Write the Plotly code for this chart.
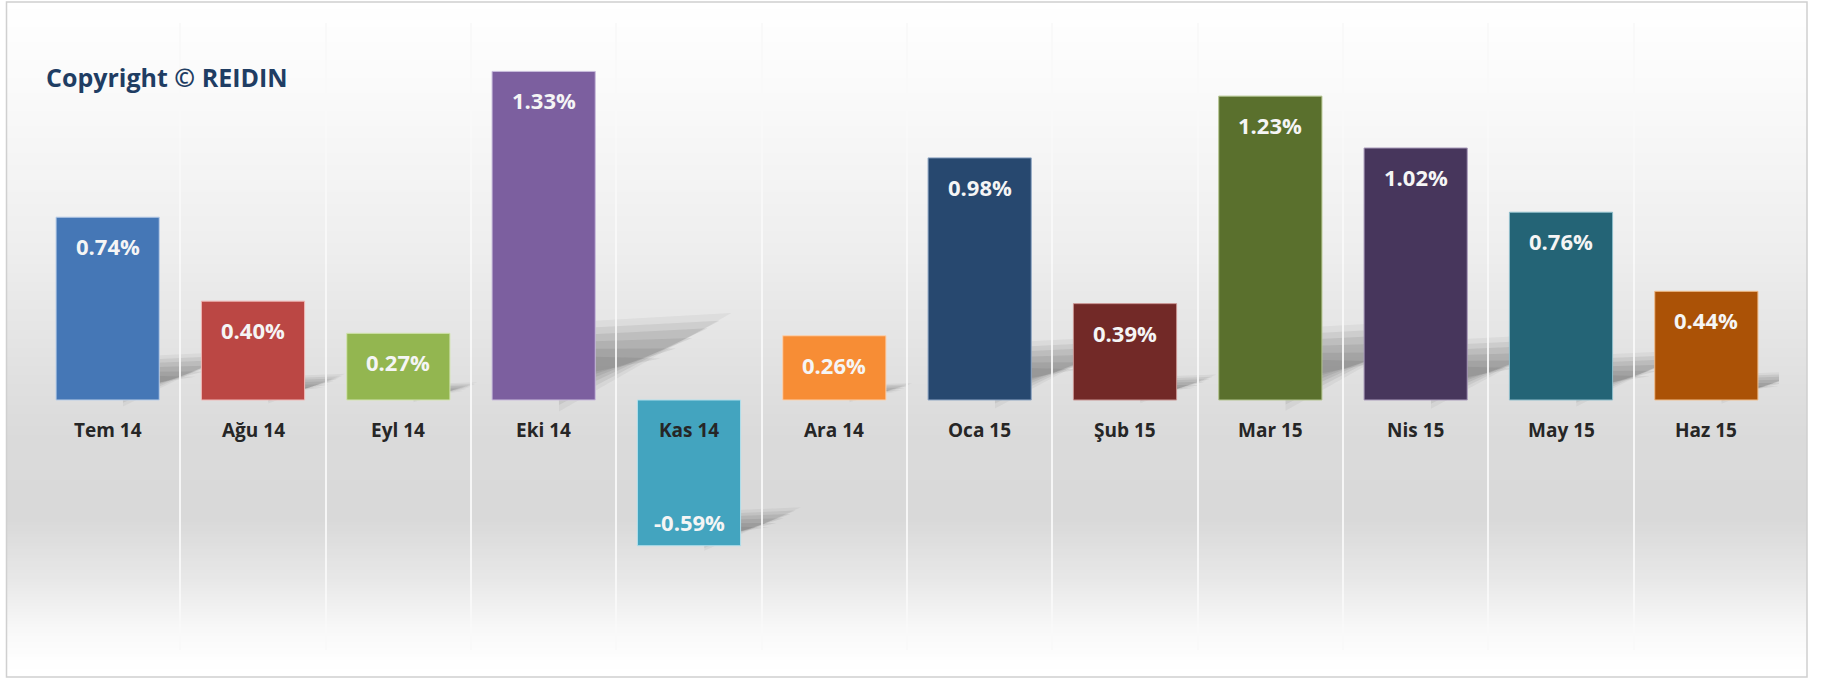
import plotly.graph_objects as go

categories = ["Tem 14", "Ağu 14", "Eyl 14", "Eki 14", "Kas 14", "Ara 14",
              "Oca 15", "Şub 15", "Mar 15", "Nis 15", "May 15", "Haz 15"]
values = [0.74, 0.40, 0.27, 1.33, -0.59, 0.26, 0.98, 0.39, 1.23, 1.02, 0.76, 0.44]
value_labels = ["0.74%", "0.40%", "0.27%", "1.33%", "-0.59%", "0.26%",
                "0.98%", "0.39%", "1.23%", "1.02%", "0.76%", "0.44%"]
bar_colors = ["#4577b6", "#bb4744", "#93b650", "#7c5f9f", "#43a4bf", "#f78d35",
              "#27486f", "#722927", "#5a702d", "#47365c", "#246476", "#ab5206"]
edge_colors = ["#b9cde8", "#f0b7b5", "#d3e4b0", "#c9bcdc", "#b4e0ec", "#fbd1ae",
               "#8fa6c4", "#c79391", "#b3c48e", "#a99bbb", "#8fbecb", "#f0bd8c"]

W, H = 1822, 678
PL, PR, PT, PB = 35, 1779, 23, 650          # plot area in screen pixels
ML, MR, MT, MB = PL, W - PR, PT, H - PB
YMIN, YMAX = -1.012, 1.526
BAR_W = 0.71

pw = PR - PL
ph = PB - PT
def px2x(p):
    return (p - PL) / pw
def py2y(p):
    return 1 - (p - PT) / ph

fig = go.Figure()
fig.add_trace(go.Bar(
    x=categories, y=values, width=BAR_W,
    marker=dict(color=bar_colors, line=dict(color=edge_colors, width=1)),
    hoverinfo="x+y", showlegend=False,
))

# background gradient
stops = [(0, 255), (120, 248), (250, 238), (380, 224), (440, 218), (520, 217),
         (580, 232), (630, 248), (660, 254), (678, 255)]
shapes = []
step = 3
y = 3
while y < 677:
    yc = y + step / 2
    c = 255
    for (a, ca), (b, cb) in zip(stops[:-1], stops[1:]):
        if a <= yc <= b:
            c = ca + (cb - ca) * (yc - a) / (b - a)
            break
    c = int(round(c))
    shapes.append(dict(type="rect", xref="paper", yref="paper", layer="below",
                       x0=px2x(7), x1=px2x(1807), y0=py2y(y + step + 0.5), y1=py2y(y),
                       line=dict(width=0), fillcolor=f"rgb({c},{c},{c})"))
    y += step

# soft perspective shadows (derived from the bar values)
cat_px = pw / len(categories)
unit_px = ph / (YMAX - YMIN)
for i, v in enumerate(values):
    h = abs(v)
    base = 0 if v > 0 else v
    xr = i + BAR_W / 2
    dx = 0.36 * h * unit_px / cat_px
    x0 = xr - 0.25
    for t, L, a in [(1.35, 1.15, 0.05), (1.15, 1.05, 0.07), (0.95, 0.95, 0.08),
                    (0.75, 0.82, 0.08), (0.55, 0.68, 0.08), (0.35, 0.55, 0.07)]:
        c0, w0 = base + 0.10 * h, 0.10 * h
        c1 = base + 0.23 * h * L
        x1 = xr + dx * L
        path = (f"M {x0},{c0 - w0 * t} L {x1},{c1} L {x0},{c0 + w0 * t} Z")
        shapes.append(dict(type="path", xref="x", yref="y", layer="below",
                           path=path, line=dict(width=0),
                           fillcolor=f"rgba(30,30,30,{a})"))

# outer frame
shapes.append(dict(type="rect", xref="paper", yref="paper", layer="above",
                   x0=px2x(6.5), x1=px2x(1807), y0=py2y(677), y1=py2y(2),
                   line=dict(color="#d0d0d0", width=1.5), fillcolor="rgba(0,0,0,0)"))

annotations = []
for cat, v, t in zip(categories, values, value_labels):
    annotations.append(dict(x=cat, y=v, text=f"<b>{t}</b>", showarrow=False,
                            yshift=-29 if v >= 0 else 24,
                            font=dict(family="Open Sans", size=22, color="#f5f5f5")))
    annotations.append(dict(x=cat, y=0, text=f"<b>{cat}</b>", showarrow=False,
                            yshift=-30,
                            font=dict(family="Open Sans", size=19, color="#262626")))
annotations.append(dict(xref="paper", yref="paper", x=px2x(44), y=py2y(77),
                        xanchor="left", yanchor="middle", showarrow=False,
                        text="<b>Copyright © REIDIN</b>",
                        font=dict(family="Open Sans", size=25, color="#1f3d63")))

fig.update_layout(
    width=W, height=H,
    margin=dict(l=ML, r=MR, t=MT, b=MB, pad=0),
    paper_bgcolor="white", plot_bgcolor="rgba(0,0,0,0)",
    shapes=shapes, annotations=annotations,
    xaxis=dict(type="category", range=[-0.5, 11.5], showticklabels=False,
               showgrid=True, tickson="boundaries", gridcolor="rgba(248,248,248,0.9)",
               gridwidth=2, zeroline=False, showline=False, ticks=""),
    yaxis=dict(range=[YMIN, YMAX], showgrid=False, zeroline=False,
               showticklabels=False, showline=False, ticks=""),
)

fig.write_html("out.html", config={"displayModeBar": False},
               post_script="document.body.style.margin='0px';document.body.style.overflow='hidden';")
